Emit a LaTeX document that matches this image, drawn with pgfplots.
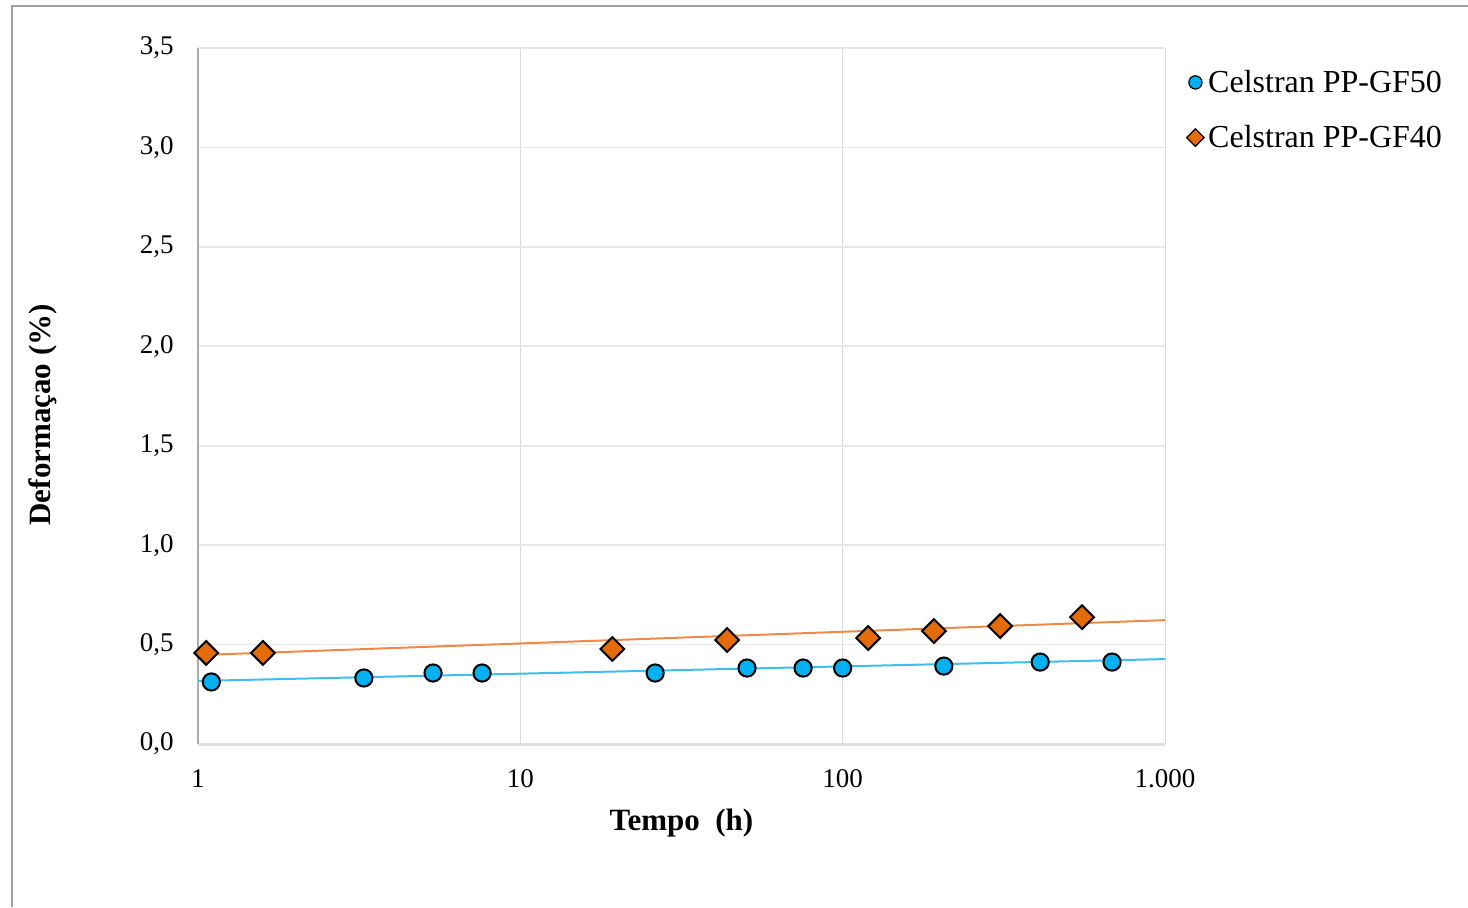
\documentclass[border=0pt]{standalone}
\usepackage{pgfplots}
\pgfplotsset{compat=1.18}
\usepackage{fontspec}
\setmainfont{Liberation Serif}
\definecolor{cblue}{HTML}{00B0F0}
\definecolor{corange}{HTML}{E36C09}
\definecolor{tblue}{HTML}{3DBDF0}
\definecolor{torange}{HTML}{EE8A45}
\begin{document}
\begin{tikzpicture}
\useasboundingbox (0pt,0pt) rectangle (734pt,453.5pt);
\draw[color=gray!75, line width=1pt] (6pt,0pt) -- (6pt,450.5pt) -- (734pt,450.5pt);
\begin{axis}[
  at={(99pt,81.5pt)}, anchor=south west,
  scale only axis, width=483.5pt, height=348pt,
  xmode=log, xmin=1, xmax=1000, ymin=0, ymax=3.5,
  xtick={1,10,100,1000}, xticklabels={1,10,100,{1.000}},
  ytick={0,0.5,...,3.5},
  minor xtick={}, 
  tick style={draw=none},
  axis lines*=left,
  x axis line style={-, draw=gray!25, line width=1.5pt},
  y axis line style={-, draw=gray!65, line width=1pt},
  ymajorgrids, xmajorgrids,
  y grid style={gray!18, line width=0.9pt},
  x grid style={gray!30, line width=0.5pt},
  /pgf/number format/fixed, /pgf/number format/fixed zerofill, /pgf/number format/precision=1,
  /pgf/number format/use comma, /pgf/number format/assume math mode=true,
  yticklabel style={anchor=east, inner sep=0pt, xshift=-12pt, font=\fontsize{13.5}{15}\selectfont},
  xticklabel style={anchor=north, inner sep=0pt, yshift=-12.5pt, font=\fontsize{13.5}{15}\selectfont},
  xlabel={Tempo\enspace(h)}, ylabel={Deformaçao (\%)},
  xlabel style={at={(axis description cs:0.5,-0.113)}, anchor=center, font=\fontsize{15.5}{18}\selectfont\bfseries},
  ylabel style={at={(axis description cs:-0.160,0.473)}, anchor=center, font=\fontsize{15.5}{18}\selectfont\bfseries},
  legend style={at={(1.022,0.975)}, anchor=north west, draw=none, fill=none,
    font=\fontsize{16}{18}\selectfont, row sep=11pt, inner sep=0pt,
    nodes={inner sep=2pt}},
  legend cell align=left,
  legend image code/.code={\draw[#1] plot coordinates {(0.12cm,0cm)};},
]
\addlegendimage{only marks, mark=*, mark size=3.3pt, mark options={fill=cblue, draw=black, line width=0.6pt}}
\addlegendentry{Celstran PP-GF50}
\addlegendimage{only marks, mark=square*, mark size=3.1pt, mark options={rotate=45, fill=corange, draw=black, line width=0.6pt}}
\addlegendentry{Celstran PP-GF40}
\addplot[forget plot, color=tblue, line width=1pt] coordinates {(1,0.317) (1000,0.427)};
\addplot[forget plot, color=torange, line width=1pt] coordinates {(1,0.447) (1000,0.623)};
\addplot[forget plot, only marks, mark=*, mark size=4.3pt, mark options={fill=cblue, draw=black, line width=1pt}]
coordinates {
(1.10,0.312) (3.27,0.332) (5.36,0.357) (7.61,0.357) (26.2,0.357)
(50.5,0.382) (75.4,0.382) (100,0.382) (206,0.392) (410,0.412) (685,0.412)
};
\addplot[forget plot, only marks, mark=square*, mark size=4.2pt, mark options={rotate=45, fill=corange, draw=black, line width=1pt}]
coordinates {
(1.06,0.458) (1.59,0.458) (19.3,0.478) (43.8,0.523) (120,0.533)
(192,0.568) (308,0.593) (553,0.638)
};
\end{axis}
\end{tikzpicture}
\end{document}
